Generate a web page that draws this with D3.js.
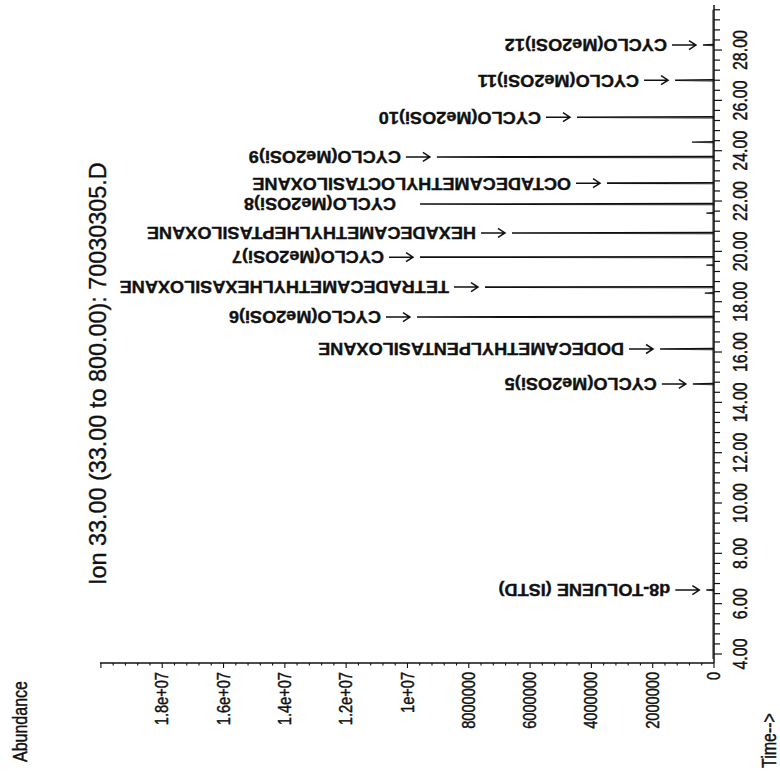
<!DOCTYPE html>
<html>
<head>
<meta charset="utf-8">
<script src="https://cdn.jsdelivr.net/npm/d3@7"></script>
<style>
  body { margin: 0; background: #fff; }
  text { font-family: "Liberation Sans", Arial, sans-serif; fill: #111; stroke: #111; stroke-width: 0.35; }
</style>
</head>
<body>
<svg id="chart" width="780" height="780"></svg>
<script>
// labelled peaks (retention time in min, abundance)
const peakNames = [
  "d8-TOLUENE (ISTD)", "CYCLO(Me2OSi)5", "DODECAMETHYLPENTASILOXANE", "CYCLO(Me2OSi)6",
  "TETRADECAMETHYLHEXASILOXANE", "CYCLO(Me2OSi)7", "HEXADECAMETHYLHEPTASILOXANE",
  "CYCLO(Me2OSi)8", "OCTADECAMETHYLOCTASILOXANE", "CYCLO(Me2OSi)9",
  "CYCLO(Me2OSi)10", "CYCLO(Me2OSi)11", "CYCLO(Me2OSi)12"
];
const peakTimes = [6.54, 14.73, 16.12, 17.39, 18.58, 19.77, 20.73, 21.88, 22.71, 23.75, 25.33, 26.80, 28.20];
const peakAbund = [250000, 690000, 1760000, 9690000, 7470000, 9590000, 6590000, 9590000, 3490000, 9040000, 4470000, 1270000, 360000];
const peakArrow = [true, true, true, true, true, true, true, false, true, true, true, true, true];

// unlabelled minor peaks
const minorTimes = [18.34, 19.45, 21.52, 24.34];
const minorAbund = [300000, 250000, 250000, 720000];

// axes
const timeTicks  = [4, 6, 8, 10, 12, 14, 16, 18, 20, 22, 24, 26, 28];
const timeLabels = ["4.00", "6.00", "8.00", "10.00", "12.00", "14.00", "16.00", "18.00", "20.00", "22.00", "24.00", "26.00", "28.00"];
const abundTicks  = [0, 2000000, 4000000, 6000000, 8000000, 10000000, 12000000, 14000000, 16000000, 18000000];
const abundLabels = ["0", "2000000", "4000000", "6000000", "8000000", "1e+07", "1.2e+07", "1.4e+07", "1.6e+07", "1.8e+07"];

const svg = d3.select("#chart");

// page is rotated: time runs up the right side, abundance grows to the left
const yTime = d3.scaleLinear().domain([3.642, 29.79]).range([663, 5]);
const xAb   = d3.scaleLinear().domain([0, 20030000]).range([714, 100]);
const ink = "#111";

// the scanned print is wider across than along: stretch rotated glyphs a little
const upText = (g, x, y, s) => g.append("text")
  .attr("transform", `translate(${x}, ${y}) rotate(-90) scale(1, ${s})`)
  .attr("dominant-baseline", "central");

// time axis (vertical)
const tAxis = svg.append("g");
tAxis.append("line")
  .attr("x1", xAb(0)).attr("x2", xAb(0))
  .attr("y1", yTime.range()[0]).attr("y2", yTime.range()[1])
  .attr("stroke", ink).attr("stroke-width", 1.5);
d3.range(4, 29.8, 0.4).forEach(t => {
  const major = Math.abs(t / 2 - Math.round(t / 2)) < 1e-6;
  tAxis.append("line")
    .attr("x1", xAb(0)).attr("x2", xAb(0) + (major ? 8 : 6))
    .attr("y1", yTime(t)).attr("y2", yTime(t))
    .attr("stroke", ink).attr("stroke-width", 1.2);
});
timeTicks.forEach((t, i) => {
  upText(tAxis, 739.5, yTime(t), 1.3)
    .attr("text-anchor", "middle")
    .attr("font-size", 16)
    .text(timeLabels[i]);
});

// abundance axis (horizontal)
const aAxis = svg.append("g");
aAxis.append("line")
  .attr("x1", xAb.range()[1]).attr("x2", xAb(0))
  .attr("y1", 663).attr("y2", 663)
  .attr("stroke", ink).attr("stroke-width", 1.5);
d3.range(0, 20000001, 400000).forEach(v => {
  const major = v % 2000000 === 0;
  aAxis.append("line")
    .attr("x1", xAb(v)).attr("x2", xAb(v))
    .attr("y1", 663).attr("y2", 663 + (major ? 5 : 2.5))
    .attr("stroke", ink).attr("stroke-width", 1.1);
});
abundTicks.forEach((v, i) => {
  upText(aAxis, xAb(v), 672, 1.25)
    .attr("text-anchor", "end")
    .attr("font-size", 14.6)
    .text(abundLabels[i]);
});

// chromatogram trace: baseline plus peaks
const trace = svg.append("g");
trace.append("line")
  .attr("x1", xAb(0) - 1).attr("x2", xAb(0) - 1)
  .attr("y1", yTime(3.8)).attr("y2", yTime(29.6))
  .attr("stroke", ink).attr("stroke-width", 1);
const spike = d3.line().x(d => xAb(d[1])).y(d => yTime(d[0]));
peakTimes.forEach((t, i) => {
  trace.append("path")
    .attr("d", spike([[t - 0.015, 0], [t, peakAbund[i]], [t + 0.015, 0]]))
    .attr("fill", "none").attr("stroke", ink).attr("stroke-width", 1.6);
});
minorTimes.forEach((t, i) => {
  trace.append("path")
    .attr("d", spike([[t - 0.015, 0], [t, minorAbund[i]], [t + 0.015, 0]]))
    .attr("fill", "none").attr("stroke", ink).attr("stroke-width", 1.3);
});

// peak labels, upside down to the left of each apex
const labels = svg.append("g");
peakTimes.forEach((t, i) => {
  const px = xAb(peakAbund[i]);
  const py = yTime(t);
  let textX = px - 24;
  if (peakArrow[i]) {
    const x1 = px - 7, x0 = x1 - 24;
    labels.append("path")
      .attr("d", `M${x0},${py} L${x1},${py} M${x1 - 7},${py - 4.5} L${x1},${py} L${x1 - 7},${py + 4.5}`)
      .attr("fill", "none").attr("stroke", ink).attr("stroke-width", 1.5);
    textX = x0 - 5;
  }
  labels.append("text")
    .attr("transform", `translate(${textX}, ${py}) rotate(180) scale(1.12, 1)`)
    .attr("text-anchor", "start").attr("dominant-baseline", "central")
    .attr("font-size", 16.2).attr("font-weight", "bold").attr("stroke-width", 0.2)
    .text(peakNames[i]);
});

// titles
upText(svg, 97, 585, 1.05)
  .attr("font-size", 23.4)
  .text("Ion  33.00 (33.00 to 800.00): 70030305.D");

upText(svg, 20, 762, 1.25)
  .attr("font-size", 16)
  .text("Abundance");

upText(svg, 769, 768, 1.25)
  .attr("font-size", 16)
  .text("Time-->");
</script>
</body>
</html>
